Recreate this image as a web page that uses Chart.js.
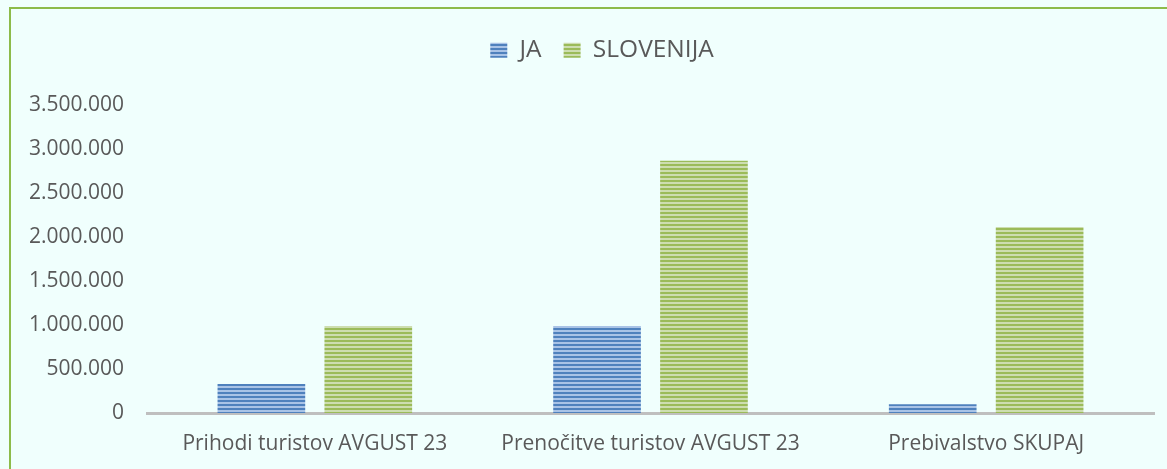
<!DOCTYPE html>
<html>
<head>
<meta charset="utf-8">
<script src="https://cdn.jsdelivr.net/npm/chart.js@4.4.1/dist/chart.umd.min.js"></script>
<style>
  html, body { margin: 0; padding: 0; background: #F0FFFD; overflow: hidden; }
  #wrap { position: relative; width: 1167px; height: 469px; }
  #frame {
    position: absolute; left: 9px; top: 7px; width: 1200px; height: 500px;
    border: 2px solid #8DBB4A; box-sizing: border-box;
  }
  canvas { position: absolute; left: 0; top: 0; }
</style>
</head>
<body>
<div id="wrap">
  <div id="frame"></div>
  <canvas id="chart" width="1167" height="469"></canvas>
</div>
<script>
const categories = ["Prihodi turistov AVGUST 23", "Prenočitve turistov AVGUST 23", "Prebivalstvo SKUPAJ"];
const seriesNames = ["JA", "SLOVENIJA"];
const jaValues = [330000, 990000, 100000];
const slovenijaValues = [990000, 2870000, 2117000];
const yTicks = [0, 500000, 1000000, 1500000, 2000000, 2500000, 3000000, 3500000];

// horizontal stripe fill like the Excel pattern
function stripes(dark, light) {
  const c = document.createElement("canvas");
  c.width = 4;
  c.height = 4;
  const g = c.getContext("2d");
  g.fillStyle = light;
  g.fillRect(0, 0, 4, 4);
  g.fillStyle = dark;
  g.fillRect(0, 0, 4, 2);
  return g.createPattern(c, "repeat");
}

const blueFill = stripes("#4F81BD", "#A9C3E6");
const greenFill = stripes("#9BBB59", "#CDDDB0");

const fmt = (v) => v.toString().replace(/\B(?=(\d{3})+(?!\d))/g, ".");

// extra room under the legend and a small shift right, like the original
const legendTweak = {
  id: "legendTweak",
  beforeUpdate(chart) {
    const lg = chart.legend;
    if (lg && !lg._gapped) {
      const fit = lg.fit;
      lg.fit = function () {
        fit.call(this);
        this.height += 33;
      };
      lg._gapped = true;
    }
  },
  afterLayout(chart) {
    const lg = chart.legend;
    if (lg) {
      lg.left += 25;
      lg.right += 25;
    }
  },
};

const ctx = document.getElementById("chart").getContext("2d");
new Chart(ctx, {
  type: "bar",
  data: {
    labels: categories,
    datasets: [
      {
        label: seriesNames[0],
        data: jaValues,
        backgroundColor: blueFill,
        borderWidth: 0,
      },
      {
        label: seriesNames[1],
        data: slovenijaValues,
        backgroundColor: greenFill,
        borderWidth: 0,
      },
    ],
  },
  plugins: [legendTweak],
  options: {
    responsive: false,
    animation: false,
    layout: { padding: { left: 0, right: 13, top: 16, bottom: 0 } },
    categoryPercentage: 0.637,
    barPercentage: 0.82,
    plugins: {
      tooltip: { enabled: false },
      legend: {
        position: "top",
        labels: {
          color: "#595959",
          font: { family: "Open Sans", size: 24.5 },
          boxWidth: 17,
          boxHeight: 15,
          padding: 22,
        },
      },
    },
    scales: {
      x: {
        afterFit: (scale) => { scale.height = 56; },
        grid: { display: false, drawTicks: false },
        border: { color: "#BFBFBF", width: 3 },
        ticks: {
          color: "#595959",
          font: { family: "Open Sans", size: 21 },
          padding: 18,
          maxRotation: 0,
        },
      },
      y: {
        min: 0,
        max: 3500000,
        afterFit: (scale) => { scale.width = 147; },
        afterBuildTicks: (scale) => { scale.ticks = yTicks.map((v) => ({ value: v })); },
        grid: { display: false, drawTicks: false },
        border: { display: false },
        ticks: {
          color: "#595959",
          font: { family: "Open Sans", size: 21 },
          padding: 23,
          callback: (v) => fmt(v),
        },
      },
    },
  },
});
</script>
</body>
</html>
